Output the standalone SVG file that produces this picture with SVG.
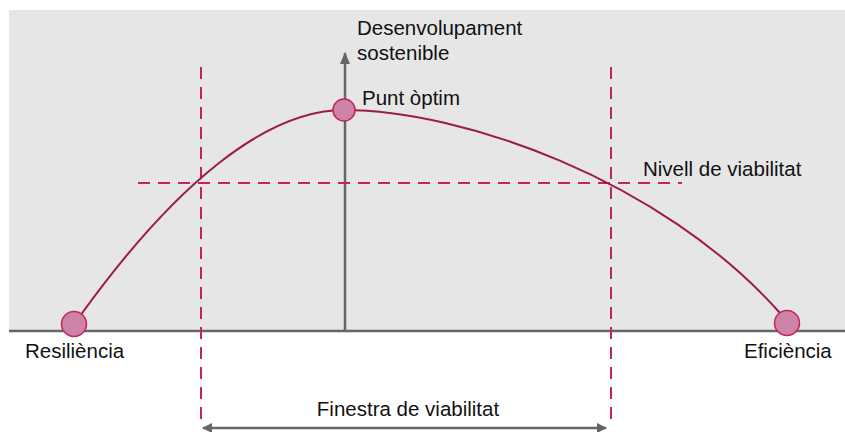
<svg xmlns="http://www.w3.org/2000/svg" width="845" height="432" viewBox="0 0 845 432">
<defs>
<style>
.t{font-family:"Liberation Sans",Arial,sans-serif;font-size:20.5px;fill:#111}
.dash{stroke:#c4245a;stroke-width:2;stroke-dasharray:12 8;fill:none}
.axis{stroke:#666;stroke-width:2.5;fill:none}
.pt{fill:#d083a8;stroke:#c4245a;stroke-width:1.5}
</style>
<marker id="ah" viewBox="0 0 10 10" refX="9" refY="5" markerWidth="10" markerHeight="10" markerUnits="userSpaceOnUse" orient="auto-start-reverse"><path d="M0,0L10,5L0,10z" fill="#666"/></marker>
<marker id="ah2" viewBox="0 0 12 10" refX="11" refY="5" markerWidth="12" markerHeight="10" markerUnits="userSpaceOnUse" orient="auto-start-reverse"><path d="M0,0L12,5L0,10z" fill="#666"/></marker>
</defs>
<rect x="9" y="10" width="836" height="321" fill="#e6e6e6"/>
<g id="connectors">
<line class="axis" x1="9" y1="331" x2="845" y2="331"/>
<line class="axis" x1="345" y1="331" x2="345" y2="53" marker-end="url(#ah2)"/>
<line class="dash" x1="201" y1="67" x2="201" y2="420"/>
<line class="dash" x1="611" y1="67" x2="611" y2="420"/>
<line class="dash" x1="138" y1="183" x2="682" y2="183"/>
<path d="M80,316 C175,184 266,110 344,110 C460,110 660,178 780,313" fill="none" stroke="#9b1b4a" stroke-width="2"/>
<line class="axis" x1="203" y1="428" x2="606" y2="428" marker-start="url(#ah)" marker-end="url(#ah)"/>
</g>
<g id="resiliencia"><circle class="pt" cx="74" cy="324" r="12.5"/><text class="t" x="25" y="358">Resiliència</text></g>
<g id="eficiencia"><circle class="pt" cx="787" cy="323" r="12.5"/><text class="t" x="744" y="358">Eficiència</text></g>
<g id="optim"><circle class="pt" cx="344" cy="110" r="11"/><text class="t" x="362" y="105">Punt òptim</text></g>
<g id="desenvolupament"><text class="t" x="357" y="35">Desenvolupament</text><text class="t" x="357" y="60">sostenible</text></g>
<g id="nivell"><text class="t" x="643" y="176">Nivell de viabilitat</text></g>
<g id="finestra"><text class="t" x="408" y="416" text-anchor="middle">Finestra de viabilitat</text></g>
</svg>
